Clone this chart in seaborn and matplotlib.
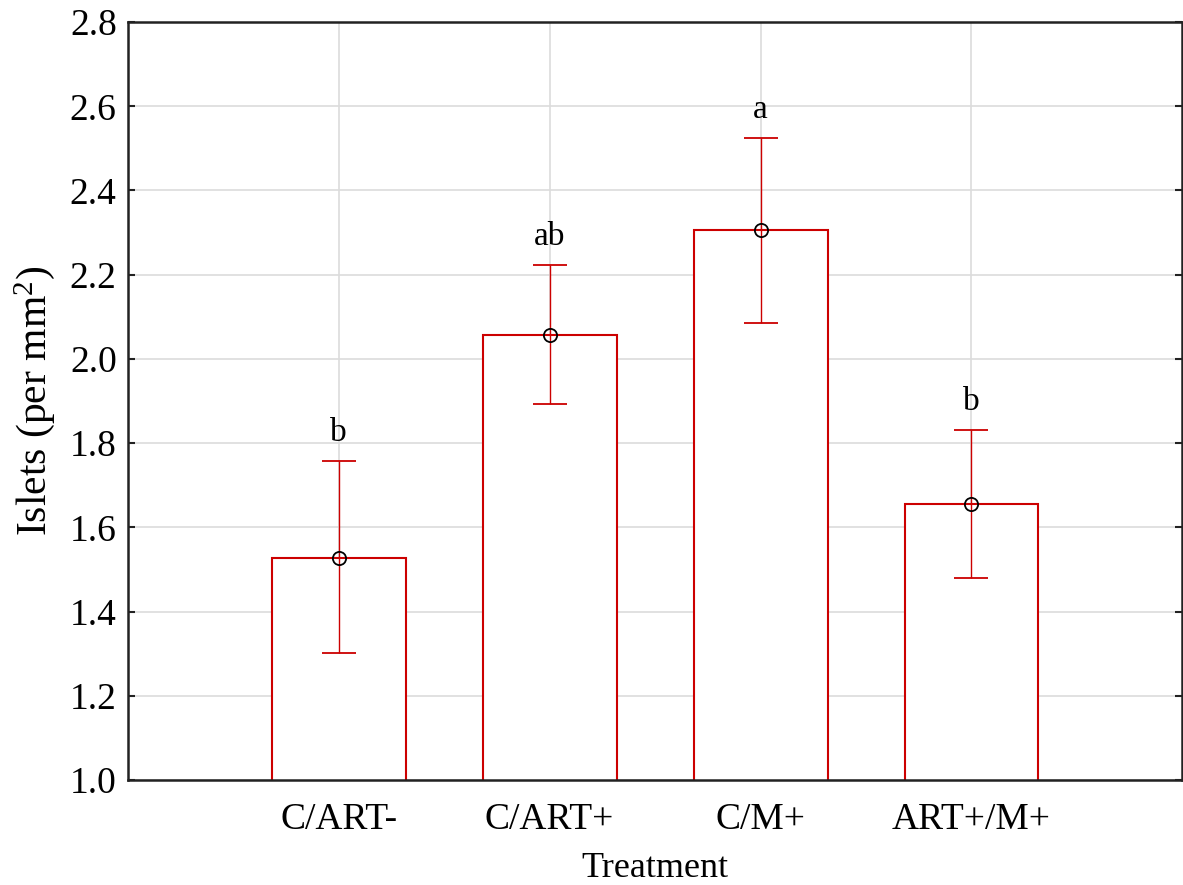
import matplotlib
matplotlib.use("Agg")
import matplotlib.pyplot as plt
import seaborn as sns
import pandas as pd

tratamientos = ["C/ART-", "C/ART+", "C/M+", "ART+/M+"]
medias = [1.528, 2.058, 2.305, 1.655]
err_sup = [1.758, 2.224, 2.525, 1.831]
err_inf = [1.302, 1.892, 2.085, 1.480]
letras = ["b", "ab", "a", "b"]

rojo = "#cc0000"

sns.set_theme(style="whitegrid")
plt.rcParams["font.family"] = ["Liberation Serif", "DejaVu Serif"]
plt.rcParams["mathtext.default"] = "regular"

df = pd.DataFrame({"Treatment": tratamientos, "Islets": medias})

fig = plt.figure(figsize=(11.83, 8.85), dpi=100)
ax = fig.add_axes([0.108, 0.1186, 0.8915, 0.8565])

sns.barplot(data=df, x="Treatment", y="Islets", color="white", edgecolor=rojo,
            linewidth=1.5, width=0.635, ax=ax, zorder=2)

xs = range(len(tratamientos))
yerr = [[m - lo for m, lo in zip(medias, err_inf)],
        [hi - m for m, hi in zip(medias, err_sup)]]
ax.errorbar(xs, medias, yerr=yerr, fmt="o", mfc="none", mec="black", ms=9.5,
            mew=1.3, ecolor=rojo, elinewidth=1.0, capsize=12, capthick=1.0,
            zorder=4)

for x, hi, l in zip(xs, err_sup, letras):
    ax.text(x, hi + 0.03, l, ha="center", va="bottom", fontsize=24, color="black")

ax.set_xlim(-1, 4)
ax.set_ylim(1.0, 2.8)
ax.set_yticks([1.0, 1.2, 1.4, 1.6, 1.8, 2.0, 2.2, 2.4, 2.6, 2.8])
ax.set_yticklabels(["1.0", "1.2", "1.4", "1.6", "1.8", "2.0", "2.2", "2.4", "2.6", "2.8"])
ax.set_xticks(list(xs))
ax.set_xticklabels(tratamientos)

ax.grid(True, color="#dcdcdc", linewidth=1.2)
ax.set_axisbelow(True)
for s in ax.spines.values():
    s.set_color("#222222")
    s.set_linewidth(1.8)
    s.set_visible(True)

ax.tick_params(axis="both", direction="in", length=5, width=1.5, colors="#222222",
               labelcolor="black", labelsize=27, right=True, bottom=True, left=True)
ax.tick_params(axis="x", pad=16)
ax.tick_params(axis="y", pad=8)

ax.set_xlabel("Treatment", fontsize=26, labelpad=11, color="black")
ax.set_ylabel("Islets (per mm$^{2}$)", fontsize=30, labelpad=9, color="black")

plt.savefig("out.png", dpi=100, facecolor="white")
